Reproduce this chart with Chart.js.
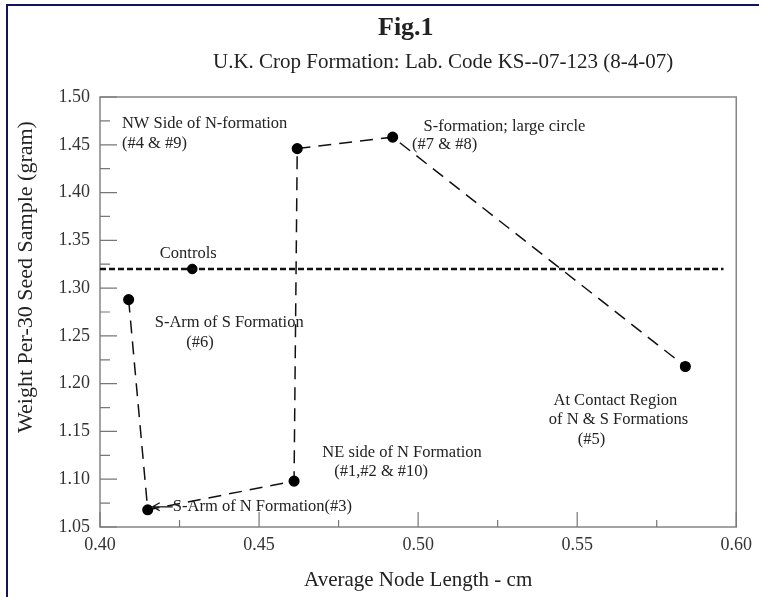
<!DOCTYPE html>
<html lang="en">
<head>
<meta charset="UTF-8">
<title>Fig.1</title>
<script src="https://cdn.jsdelivr.net/npm/chart.js"></script>
<style>
    body {
        margin: 0;
        background-color: white;
    }
    #chartBox {
        width: 759px;
        height: 597px;
    }
</style>
</head>
<body>
<div id="chartBox">
    <canvas id="myChart" width="759" height="597"></canvas>
</div>
<script>
    // sample points, in the order they are joined
    const nodeLength = [0.409, 0.415, 0.461, 0.462, 0.492, 0.584];
    const seedWeight = [1.288, 1.068, 1.098, 1.446, 1.458, 1.218];

    // controls
    const controlLength = [0.429];
    const controlWeight = [1.320];
    const controlLineX = [0.400, 0.596];
    const controlLineY = [1.320, 1.320];

    const xTicks = [0.40, 0.45, 0.50, 0.55, 0.60];
    const yTicks = [1.05, 1.10, 1.15, 1.20, 1.25, 1.30, 1.35, 1.40, 1.45, 1.50];

    const serif = '"Liberation Serif", "Times New Roman", serif';
    const ink = '#222';

    // text notes placed in data units: [text, x, y, align]
    const notes = [
        ['NW Side of N-formation', 0.4069, 1.4725, 'left'],
        ['(#4 & #9)', 0.4069, 1.4515, 'left'],
        ['Controls', 0.4188, 1.3357, 'left'],
        ['S-Arm of S Formation', 0.4172, 1.2638, 'left'],
        ['(#6)', 0.4271, 1.2433, 'left'],
        ['S-Arm of N Formation(#3)', 0.4229, 1.0713, 'left'],
        ['NE side of N Formation', 0.4699, 1.128, 'left'],
        ['(#1,#2 & #10)', 0.4736, 1.108, 'left'],
        ['S-formation; large circle', 0.5017, 1.4689, 'left'],
        ['(#7 & #8)', 0.4981, 1.4498, 'left'],
        ['At Contact Region', 0.5620, 1.1822, 'center'],
        ['of N & S Formations', 0.5630, 1.162, 'center'],
        ['(#5)', 0.5545, 1.141, 'center']
    ];

    function toPoints(xs, ys) {
        return xs.map((x, i) => ({ x: x, y: ys[i] }));
    }

    const decor = {
        id: 'decor',
        beforeDraw(chart) {
            const ctx = chart.ctx;
            ctx.save();
            ctx.fillStyle = 'white';
            ctx.fillRect(0, 0, chart.width, chart.height);
            // navy frame of the scan
            ctx.strokeStyle = '#14145e';
            ctx.lineWidth = 2;
            ctx.beginPath();
            ctx.moveTo(7, chart.height);
            ctx.lineTo(7, 5);
            ctx.lineTo(chart.width, 5);
            ctx.stroke();
            // titles
            ctx.fillStyle = ink;
            ctx.textBaseline = 'alphabetic';
            ctx.textAlign = 'left';
            ctx.font = 'bold 26px ' + serif;
            ctx.fillText('Fig.1', 378, 35);
            ctx.font = '21px ' + serif;
            ctx.fillText('U.K. Crop Formation: Lab. Code KS--07-123 (8-4-07)', 213, 68);
            // y axis title (sits above the axis middle in the scan)
            ctx.font = '22px ' + serif;
            ctx.textAlign = 'center';
            ctx.textBaseline = 'middle';
            ctx.translate(26, 277);
            ctx.rotate(-Math.PI / 2);
            ctx.fillText('Weight Per-30 Seed Sample (gram)', 0, 0);
            ctx.restore();
        },
        beforeDatasetsDraw(chart) {
            const ctx = chart.ctx;
            const a = chart.chartArea;
            const xs = chart.scales.x, ys = chart.scales.y;
            ctx.save();
            ctx.strokeStyle = '#858585';
            ctx.lineWidth = 1.5;
            ctx.strokeRect(a.left, a.top, a.right - a.left, a.bottom - a.top);
            ctx.strokeStyle = '#777';
            ctx.lineWidth = 1.2;
            ctx.beginPath();
            xTicks.forEach((v, i) => {
                const px = xs.getPixelForValue(v);
                ctx.moveTo(px, a.bottom);
                ctx.lineTo(px, a.bottom - 15);
                if (i < xTicks.length - 1) {
                    const mx = xs.getPixelForValue((v + xTicks[i + 1]) / 2);
                    ctx.moveTo(mx, a.bottom);
                    ctx.lineTo(mx, a.bottom - 7);
                }
            });
            yTicks.forEach((v, i) => {
                const py = ys.getPixelForValue(v);
                ctx.moveTo(a.left, py);
                ctx.lineTo(a.left + 17, py);
                if (i < yTicks.length - 1) {
                    const my = ys.getPixelForValue((v + yTicks[i + 1]) / 2);
                    ctx.moveTo(a.left, my);
                    ctx.lineTo(a.left + 10, my);
                }
            });
            ctx.stroke();
            ctx.restore();
        },
        afterDatasetsDraw(chart) {
            const ctx = chart.ctx;
            const xs = chart.scales.x, ys = chart.scales.y;
            ctx.save();
            ctx.fillStyle = ink;
            ctx.font = '16.5px ' + serif;
            ctx.textBaseline = 'middle';
            notes.forEach(n => {
                ctx.textAlign = n[3];
                ctx.fillText(n[0], xs.getPixelForValue(n[1]), ys.getPixelForValue(n[2]));
            });
            // arrow to the S-Arm of N point
            const tipX = xs.getPixelForValue(nodeLength[1]) + 5;
            const tipY = ys.getPixelForValue(seedWeight[1]) - 3;
            ctx.strokeStyle = '#111';
            ctx.lineWidth = 1.3;
            ctx.beginPath();
            ctx.moveTo(tipX + 20, tipY);
            ctx.lineTo(tipX, tipY);
            ctx.moveTo(tipX + 7, tipY - 4);
            ctx.lineTo(tipX, tipY);
            ctx.lineTo(tipX + 7, tipY + 4);
            ctx.stroke();
            ctx.restore();
        }
    };

    const ctx = document.getElementById('myChart').getContext('2d');
    const chart = new Chart(ctx, {
        type: 'scatter',
        data: {
            datasets: [{
                data: toPoints(controlLineX, controlLineY),
                showLine: true,
                borderColor: '#111',
                borderWidth: 2.5,
                borderDash: [6, 3],
                pointRadius: 0
            }, {
                data: toPoints(nodeLength, seedWeight),
                showLine: true,
                borderColor: '#111',
                borderWidth: 1.5,
                borderDash: [13, 8],
                pointRadius: 4.8,
                pointBackgroundColor: '#000',
                pointBorderColor: '#000'
            }, {
                data: toPoints(controlLength, controlWeight),
                pointRadius: 4.8,
                pointBackgroundColor: '#000',
                pointBorderColor: '#000'
            }]
        },
        options: {
            responsive: false,
            animation: false,
            layout: {
                padding: { top: 97, right: 17, left: 0, bottom: 0 }
            },
            plugins: {
                legend: { display: false },
                tooltip: { enabled: false }
            },
            scales: {
                x: {
                    type: 'linear',
                    min: 0.40,
                    max: 0.60,
                    afterFit: s => { s.height = 70; },
                    afterBuildTicks: s => { s.ticks = xTicks.map(v => ({ value: v })); },
                    grid: { display: false, drawTicks: false },
                    border: { display: false },
                    ticks: {
                        padding: 7,
                        color: '#333',
                        font: { family: serif, size: 18 },
                        callback: v => v.toFixed(2)
                    },
                    title: {
                        display: true,
                        text: 'Average Node Length - cm',
                        color: ink,
                        font: { family: serif, size: 21 },
                        padding: { top: 0, bottom: 4 }
                    }
                },
                y: {
                    type: 'linear',
                    min: 1.05,
                    max: 1.50,
                    afterFit: s => { s.width = 100; },
                    afterBuildTicks: s => { s.ticks = yTicks.map(v => ({ value: v })); },
                    grid: { display: false, drawTicks: false },
                    border: { display: false },
                    ticks: {
                        padding: 10,
                        color: '#333',
                        font: { family: serif, size: 18 },
                        callback: v => v.toFixed(2)
                    }
                }
            }
        },
        plugins: [decor]
    });
</script>
</body>
</html>
